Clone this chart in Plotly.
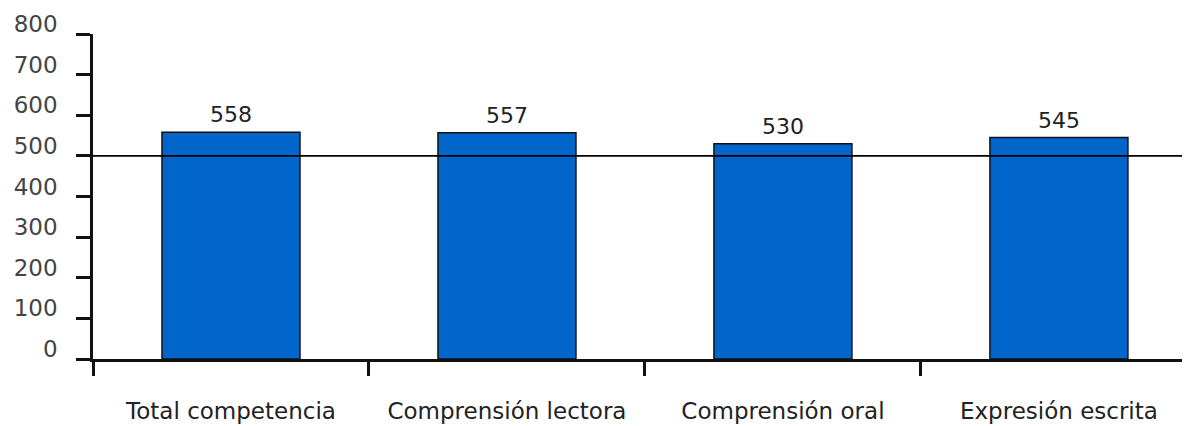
import plotly.graph_objects as go

categories = ["Total competencia", "Comprensión lectora", "Comprensión oral", "Expresión escrita"]
values = [558, 557, 530, 545]
reference_value = 500
y_ticks = [0, 100, 200, 300, 400, 500, 600, 700, 800]

FONT = "DejaVu Sans"

fig = go.Figure()
fig.add_trace(go.Bar(
    x=categories,
    y=values,
    width=0.5,
    marker=dict(color="#0066CC", line=dict(color="#111111", width=1.5)),
    hoverinfo="skip",
))

for c, v in zip(categories, values):
    fig.add_annotation(
        x=c, y=v, text=str(v), showarrow=False,
        xref="x", yref="y", yanchor="bottom", yshift=3,
        font=dict(family=FONT, size=22, color="#222222"),
    )

fig.add_shape(
    type="line", xref="paper", yref="y", x0=0, x1=1,
    y0=reference_value, y1=reference_value,
    line=dict(color="#000000", width=1.6), layer="above",
)

fig.update_layout(
    width=1182, height=418,
    margin=dict(l=85, r=0, t=26, b=67),
    paper_bgcolor="white", plot_bgcolor="white",
    showlegend=False,
    font=dict(family=FONT, size=23, color="#333333"),
)

fig.update_xaxes(
    type="category",
    range=[-0.5, 3.475],
    showline=True, linecolor="#111111", linewidth=2.5,
    ticks="outside", tickson="boundaries", ticklen=14, tickwidth=2.5, tickcolor="#111111",
    showgrid=False, zeroline=False,
    tickfont=dict(family=FONT, size=23, color="#222222"),
    ticklabelstandoff=30,
)

fig.update_yaxes(
    range=[0, 800],
    tickvals=y_ticks,
    ticktext=[str(t) for t in y_ticks],
    showline=True, linecolor="#111111", linewidth=2.5,
    ticks="outside", ticklen=14, tickwidth=2.5, tickcolor="#111111",
    showgrid=False, zeroline=False,
    tickfont=dict(family=FONT, size=23, color="#444444"),
    ticklabelstandoff=14,
    ticklabelshift=-10,
)

fig.write_html("out.html")
